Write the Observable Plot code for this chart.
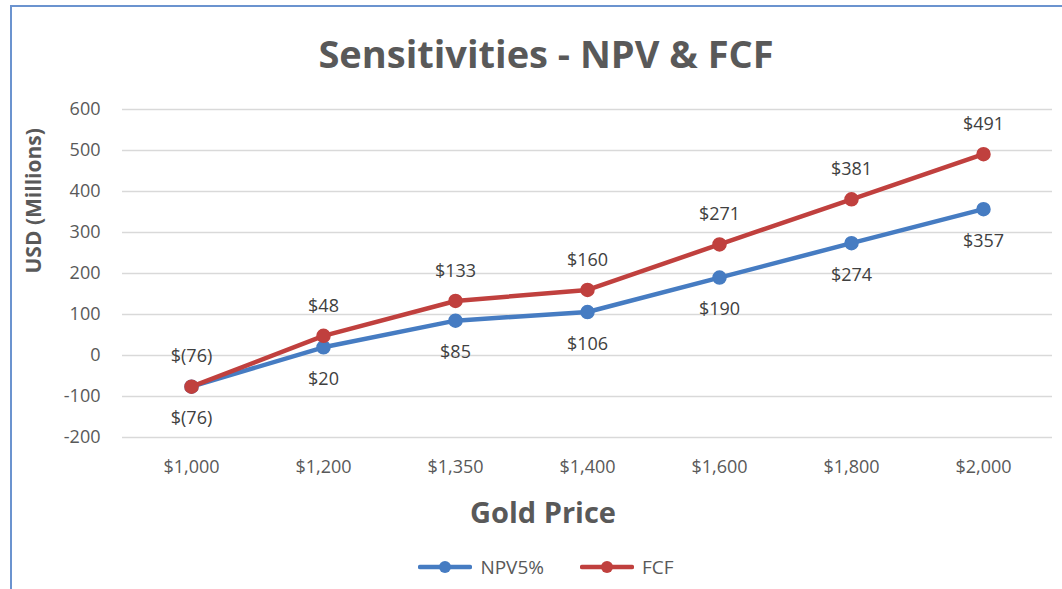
<!DOCTYPE html>
<html>
<head>
<meta charset="utf-8">
<script src="https://cdn.jsdelivr.net/npm/d3@7"></script>
<script src="https://cdn.jsdelivr.net/npm/@observablehq/plot@0.6"></script>
<style>
  html, body { margin: 0; padding: 0; background: #fff; }
  #wrap { position: relative; width: 1062px; height: 589px; overflow: hidden; font-family: "Open Sans", sans-serif; }
  #frame { position: absolute; left: 10px; top: 5px; width: 1200px; height: 800px; border: 2px solid #6b93cf; box-sizing: border-box; }
  #title { position: absolute; left: 0; top: 28px; width: 1092px; height: 50px; line-height: 50px; text-align: center; font-size: 38px; font-weight: 700; color: #595959; }
  #chart { position: absolute; left: 0; top: 90px; }
  #xlabel { position: absolute; left: 0; top: 492px; width: 1086px; height: 40px; line-height: 40px; text-align: center; font-size: 29px; font-weight: 700; color: #595959; }
  #legend { position: absolute; left: 0; top: 552px; width: 1092px; height: 30px; display: flex; justify-content: center; align-items: center; gap: 0; font-size: 19px; color: #595959; }
  .item { display: flex; align-items: center; margin: 0 18px; }
  .item svg { margin-right: 8px; }
</style>
</head>
<body>
<div id="wrap">
  <div id="frame"></div>
  <div id="title"></div>
  <div id="chart"></div>
  <div id="xlabel"></div>
  <div id="legend"></div>
</div>
<script>
const titleText = "Sensitivities - NPV & FCF";
const xTitle = "Gold Price";
const yTitle = "USD (Millions)";
const prices = ["$1,000", "$1,200", "$1,350", "$1,400", "$1,600", "$1,800", "$2,000"];
const npv = [-76, 20, 85, 106, 190, 274, 357];
const fcf = [-76, 48, 133, 160, 271, 381, 491];
const yTicks = [-200, -100, 0, 100, 200, 300, 400, 500, 600];
const seriesNames = ["NPV5%", "FCF"];
const seriesColors = ["#467cc2", "#c0403e"];

const fmt = v => v < 0 ? `$(${-v})` : `$${v}`;
const npvData = prices.map((p, i) => ({price: p, value: npv[i]}));
const fcfData = prices.map((p, i) => ({price: p, value: fcf[i]}));

document.getElementById("title").textContent = titleText;
document.getElementById("xlabel").textContent = xTitle;

const chart = Plot.plot({
  width: 1062,
  height: 390,
  marginLeft: 122,
  marginRight: 10,
  marginTop: 19,
  marginBottom: 43,
  style: {fontFamily: "Open Sans", fontSize: "18px", color: "#595959", background: "transparent", overflow: "visible"},
  x: {type: "point", domain: prices, padding: 0.5},
  y: {domain: [-200, 600]},
  marks: [
    Plot.gridY(yTicks, {stroke: "#d9d9d9", strokeOpacity: 1, strokeWidth: 1.5}),
    Plot.axisY(yTicks, {tickSize: 0, tickPadding: 22, label: null, fill: "#595959", tickFormat: d => String(d)}),
    Plot.axisX(prices, {tickSize: 0, tickPadding: 23, label: null, fill: "#595959"}),
    Plot.text([yTitle], {frameAnchor: "left", dx: -88, rotate: -90, fontSize: 21, fontWeight: "bold", fill: "#595959"}),
    Plot.line(npvData, {x: "price", y: "value", stroke: seriesColors[0], strokeWidth: 4.5}),
    Plot.dot(npvData, {x: "price", y: "value", r: 6.5, fill: seriesColors[0], stroke: seriesColors[0]}),
    Plot.line(fcfData, {x: "price", y: "value", stroke: seriesColors[1], strokeWidth: 4.5}),
    Plot.dot(fcfData, {x: "price", y: "value", r: 6.5, fill: seriesColors[1], stroke: seriesColors[1]}),
    Plot.text(npvData, {x: "price", y: "value", text: d => fmt(d.value), dy: 32, fontSize: 18, fill: "#404040"}),
    Plot.text(fcfData, {x: "price", y: "value", text: d => fmt(d.value), dy: -30, fontSize: 18, fill: "#404040"})
  ]
});
document.getElementById("chart").appendChild(chart);

const legend = document.getElementById("legend");
seriesNames.forEach((name, i) => {
  const item = document.createElement("div");
  item.className = "item";
  item.innerHTML = `<svg width="54" height="16"><line x1="2" y1="8" x2="52" y2="8" stroke="${seriesColors[i]}" stroke-width="4.5" stroke-linecap="round"/><circle cx="27" cy="8" r="6" fill="${seriesColors[i]}"/></svg><span>${name}</span>`;
  legend.appendChild(item);
});
</script>
</body>
</html>
